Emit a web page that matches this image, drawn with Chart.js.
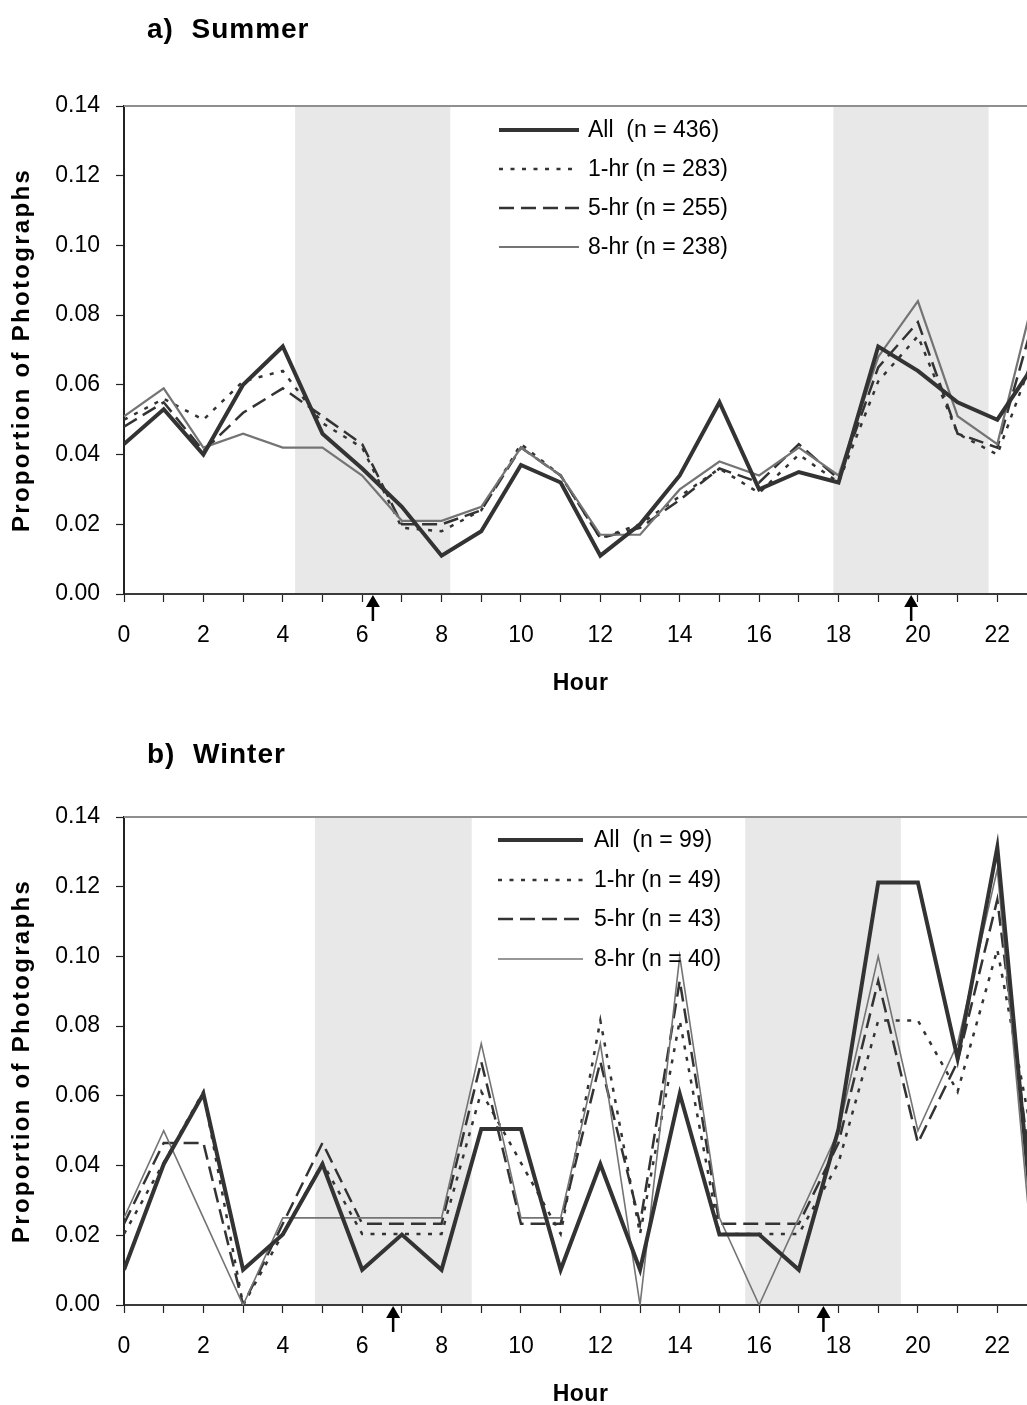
<!DOCTYPE html>
<html>
<head>
<meta charset="utf-8">
<script src="https://cdn.jsdelivr.net/npm/chart.js@4.4.1/dist/chart.umd.min.js"></script>
<style>
  html, body { margin: 0; padding: 0; background: #fff; overflow: hidden; width: 1027px; height: 1405px; }
  .panel { position: absolute; left: 0; width: 1060px; height: 711px; }
  #summerWrap { top: 0; }
  #winterWrap { top: 711px; }
  canvas { display: block; }
</style>
</head>
<body>
<div class="panel" id="summerWrap"><canvas id="summer" width="1060" height="711"></canvas></div>
<div class="panel" id="winterWrap"><canvas id="winter" width="1060" height="711"></canvas></div>
<script>
// Hour of day (category axis)
const hours = [0, 1, 2, 3, 4, 5, 6, 7, 8, 9, 10, 11, 12, 13, 14, 15, 16, 17, 18, 19, 20, 21, 22, 23];

// Summer: proportion of photographs per hour
const summerAll = [0.043, 0.053, 0.040, 0.060, 0.071, 0.046, 0.036, 0.025, 0.011, 0.018, 0.037, 0.032, 0.011, 0.020, 0.034, 0.055, 0.030, 0.035, 0.032, 0.071, 0.064, 0.055, 0.050, 0.067];
const summer1hr = [0.050, 0.056, 0.050, 0.061, 0.064, 0.049, 0.042, 0.019, 0.018, 0.024, 0.043, 0.034, 0.016, 0.020, 0.028, 0.036, 0.029, 0.040, 0.032, 0.061, 0.074, 0.046, 0.040, 0.071];
const summer5hr = [0.048, 0.055, 0.041, 0.052, 0.059, 0.051, 0.043, 0.020, 0.020, 0.024, 0.042, 0.034, 0.016, 0.019, 0.027, 0.036, 0.032, 0.043, 0.033, 0.065, 0.078, 0.046, 0.042, 0.082];
const summer8hr = [0.051, 0.059, 0.042, 0.046, 0.042, 0.042, 0.034, 0.021, 0.021, 0.025, 0.042, 0.034, 0.017, 0.017, 0.030, 0.038, 0.034, 0.042, 0.034, 0.068, 0.084, 0.051, 0.043, 0.089];

// Winter: proportion of photographs per hour
const winterAll = [0.0101, 0.0404, 0.0606, 0.0101, 0.0202, 0.0404, 0.0101, 0.0202, 0.0101, 0.0505, 0.0505, 0.0101, 0.0404, 0.0101, 0.0606, 0.0202, 0.0202, 0.0101, 0.0505, 0.1212, 0.1212, 0.0707, 0.1313, 0.0101];
const winter1hr = [0.0204, 0.0408, 0.0612, 0.0000, 0.0204, 0.0408, 0.0204, 0.0204, 0.0204, 0.0612, 0.0408, 0.0204, 0.0816, 0.0204, 0.0816, 0.0204, 0.0204, 0.0204, 0.0408, 0.0816, 0.0816, 0.0612, 0.1020, 0.0408];
const winter5hr = [0.0233, 0.0465, 0.0465, 0.0000, 0.0233, 0.0465, 0.0233, 0.0233, 0.0233, 0.0698, 0.0233, 0.0233, 0.0698, 0.0233, 0.0930, 0.0233, 0.0233, 0.0233, 0.0465, 0.0930, 0.0465, 0.0698, 0.1163, 0.0233];
const winter8hr = [0.025, 0.050, 0.025, 0.000, 0.025, 0.025, 0.025, 0.025, 0.025, 0.075, 0.025, 0.025, 0.075, 0.000, 0.100, 0.025, 0.000, 0.025, 0.050, 0.100, 0.050, 0.075, 0.125, 0.000];

// Series names
const summerLabels = ['All  (n = 436)', '1-hr (n = 283)', '5-hr (n = 255)', '8-hr (n = 238)'];
const winterLabels = ['All  (n = 99)', '1-hr (n = 49)', '5-hr (n = 43)', '8-hr (n = 40)'];

// Twilight periods (shaded) and sunrise / sunset markers, in hours
const summerShade = [[4.31, 8.22], [17.87, 21.78]];
const winterShade = [[4.81, 8.76], [15.65, 19.57]];
const summerArrows = [6.27, 19.83];
const winterArrows = [6.78, 17.62];

// Axis ticks
const yTickValues = [0, 0.02, 0.04, 0.06, 0.08, 0.10, 0.12, 0.14];

const FONT = '"Liberation Sans", Arial, Helvetica, sans-serif';
const DARK = '#333333';

function seriesStyles(thinGrey) {
  return [
    { borderColor: DARK, borderWidth: 4, borderDash: [] },
    { borderColor: DARK, borderWidth: 2.5, borderDash: [4, 7.5] },
    { borderColor: DARK, borderWidth: 2.5, borderDash: [15, 7] },
    { borderColor: '#747474', borderWidth: thinGrey, borderDash: [] }
  ];
}

const decor = {
  id: 'decor',
  beforeDatasetsDraw(chart, args, o) {
    const { ctx, chartArea: a, scales: { x } } = chart;
    ctx.save();
    ctx.fillStyle = '#e8e8e8';
    o.shade.forEach(([s, e]) => {
      const x0 = x.getPixelForValue(s), x1 = x.getPixelForValue(e);
      ctx.fillRect(x0, a.top + 1, x1 - x0, a.bottom - a.top - 2);
    });
    ctx.restore();
  },
  afterDraw(chart, args, o) {
    const { ctx, chartArea: a, scales: { x } } = chart;
    ctx.save();
    // plot area top edge
    ctx.strokeStyle = '#8f8f8f';
    ctx.lineWidth = 2;
    ctx.beginPath();
    ctx.moveTo(a.left, a.top);
    ctx.lineTo(a.right + 10, a.top);
    ctx.stroke();

    // sunrise / sunset arrows under the axis
    ctx.fillStyle = '#000';
    o.arrows.forEach(v => {
      const px = x.getPixelForValue(v);
      const tip = a.bottom + 1;
      ctx.beginPath();
      ctx.moveTo(px, tip);
      ctx.lineTo(px - 7, tip + 12);
      ctx.lineTo(px + 7, tip + 12);
      ctx.closePath();
      ctx.fill();
      ctx.fillRect(px - 1.25, tip + 11, 2.5, 15);
    });

    // legend
    ctx.textBaseline = 'middle';
    ctx.textAlign = 'left';
    ctx.font = '23px ' + FONT;
    chart.data.datasets.forEach((ds, i) => {
      const y = o.legend.rows[i];
      ctx.save();
      ctx.strokeStyle = ds.borderColor;
      ctx.lineWidth = ds.borderWidth;
      ctx.setLineDash(ds.borderDash || []);
      ctx.lineCap = 'butt';
      ctx.beginPath();
      ctx.moveTo(o.legend.x0, y);
      ctx.lineTo(o.legend.x1, y);
      ctx.stroke();
      ctx.restore();
      ctx.fillStyle = '#000';
      ctx.fillText(ds.label, o.legend.textX, y + 1);
    });

    // panel title
    ctx.fillStyle = '#000';
    ctx.font = 'bold 28px ' + FONT;
    ctx.letterSpacing = '1px';
    ctx.textAlign = 'left';
    ctx.fillText(o.title, 147, o.titleY);

    // x axis title
    ctx.font = 'bold 23px ' + FONT;
    ctx.letterSpacing = '0.5px';
    ctx.textAlign = 'center';
    ctx.fillText('Hour', (a.left + a.right) / 2, a.bottom + 90);

    // y axis title
    ctx.save();
    ctx.translate(22, (a.top + a.bottom) / 2);
    ctx.rotate(-Math.PI / 2);
    ctx.font = 'bold 24px ' + FONT;
    ctx.letterSpacing = '2.3px';
    ctx.textAlign = 'center';
    ctx.fillText('Proportion of Photographs', 0, 0);
    ctx.restore();
    ctx.letterSpacing = '0px';
    ctx.restore();
  }
};

function makeChart(id, series, labels, thinGrey, opts) {
  const styles = seriesStyles(thinGrey);
  const datasets = series.map((vals, i) => Object.assign({
    label: labels[i],
    data: hours.map((h, j) => ({ x: h, y: vals[j] })),
    pointRadius: 0,
    tension: 0,
    fill: false,
    borderJoinStyle: 'miter',
    borderCapStyle: 'butt'
  }, styles[i]));
  // draw the "All" series on top
  datasets.forEach((d, i) => { d.order = i === 0 ? 0 : 4 - i; });

  return new Chart(document.getElementById(id), {
    type: 'line',
    data: { datasets },
    plugins: [decor],
    options: {
      responsive: false,
      animation: false,
      devicePixelRatio: 1,
      layout: { padding: { top: 106, left: 0, right: 23, bottom: 0 } },
      plugins: {
        legend: { display: false },
        tooltip: { enabled: false },
        decor: opts
      },
      scales: {
        x: {
          type: 'linear',
          min: 0, max: 23,
          afterFit(s) { s.height = 117; },
          border: { color: '#3a3a3a', width: 2 },
          grid: { drawOnChartArea: false, drawTicks: true, tickLength: 8, tickColor: '#222', tickWidth: 1.2 },
          ticks: {
            stepSize: 1, autoSkip: false, maxRotation: 0, padding: 20,
            color: '#000', font: { family: FONT, size: 23 },
            callback: v => (v % 2 === 0 ? String(v) : '')
          }
        },
        y: {
          min: 0, max: 0.14,
          afterFit(s) { s.width = 124; },
          afterBuildTicks(s) { s.ticks = yTickValues.map(v => ({ value: v })); },
          border: { color: '#222', width: 2 },
          grid: { drawOnChartArea: false, drawTicks: true, tickLength: 8, tickColor: '#222', tickWidth: 1.2 },
          ticks: {
            padding: 16, color: '#000', font: { family: FONT, size: 23 },
            callback: v => Number(v).toFixed(2)
          }
        }
      }
    }
  });
}

makeChart('summer', [summerAll, summer1hr, summer5hr, summer8hr], summerLabels, 2.2, {
  shade: summerShade,
  arrows: summerArrows,
  legend: { x0: 499, x1: 579, textX: 588, rows: [130, 169, 208, 247] },
  title: 'a)  Summer',
  titleY: 30
});

makeChart('winter', [winterAll, winter1hr, winter5hr, winter8hr], winterLabels, 1.6, {
  shade: winterShade,
  arrows: winterArrows,
  legend: { x0: 498, x1: 583, textX: 594, rows: [840 - 711, 880 - 711, 919 - 711, 959 - 711] },
  title: 'b)  Winter',
  titleY: 44
});
</script>
</body>
</html>
